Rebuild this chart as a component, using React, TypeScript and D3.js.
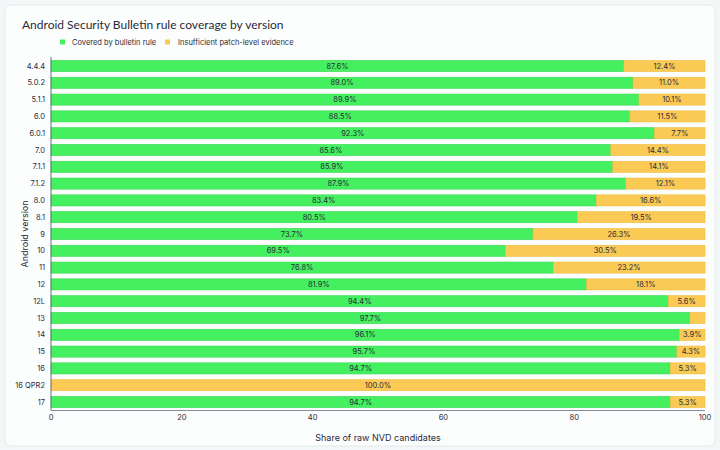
import React from "react";
import * as d3 from "d3";

const versions = ["4.4.4","5.0.2","5.1.1","6.0","6.0.1","7.0","7.1.1","7.1.2","8.0","8.1","9","10","11","12","12L","13","14","15","16","16 QPR2","17"];
const covered = [87.6,89.0,89.9,88.5,92.3,85.6,85.9,87.9,83.4,80.5,73.7,69.5,76.8,81.9,94.4,97.7,96.1,95.7,94.7,0,94.7];
const insufficient = [12.4,11.0,10.1,11.5,7.7,14.4,14.1,12.1,16.6,19.5,26.3,30.5,23.2,18.1,5.6,2.3,3.9,4.3,5.3,100.0,5.3];
const xTicks = [0,20,40,60,80,100];
const seriesNames = ["Covered by bulletin rule","Insufficient patch-level evidence"];

const W = 720, H = 450;
const FONT = "Inter, 'Noto Sans', sans-serif";
const TITLE_FONT = "Lato, Inter, sans-serif";
const GREEN = "#45f060";
const GREEN_STROKE = "#34d84c";
const ORANGE = "#fbca55";
const ORANGE_STROKE = "#f2bb3f";
const TEXT = "#2a2a3a";

export default function App() {
  const x = d3.scaleLinear().domain([0, 100]).range([51, 705]);
  const y = d3.scaleBand<string>().domain(versions).range([57.6, 410.4]).paddingInner(0.34).paddingOuter(0.17);
  const bh = y.bandwidth();
  return (
    <div style={{ position: "absolute", left: 0, top: 0, width: W, height: H, background: "#f4f7f7" }}>
      <svg width={W} height={H} style={{ display: "block", fontFamily: FONT }}>
        <rect x={5} y={5} width={710} height={441} rx={6} fill="#fcfefe" stroke="#e6eaea" />
        <text x={22} y={29} fontSize={12} fontFamily={TITLE_FONT} fill={TEXT}>Android Security Bulletin rule coverage by version</text>
        <rect x={60} y={39.5} width={5} height={5} fill={GREEN} />
        <text x={72} y={44.5} fontSize={7.5} fill={TEXT}>{seriesNames[0]}</text>
        <rect x={165} y={39.5} width={5} height={5} fill={ORANGE} />
        <text x={178} y={44.5} fontSize={7.5} fill={TEXT}>{seriesNames[1]}</text>
        {versions.map((v, i) => {
          const yy = y(v)!;
          const c = covered[i];
          const s = insufficient[i];
          return (
            <g key={v}>
              {c > 0 && (
                <rect x={x(0)} y={yy} width={x(c) - x(0)} height={bh} fill={GREEN} stroke={GREEN_STROKE} strokeWidth={0.6} />
              )}
              {s > 0 && (
                <rect x={x(c)} y={yy} width={x(c + s) - x(c)} height={bh} fill={ORANGE} stroke={ORANGE_STROKE} strokeWidth={0.6} />
              )}
              {c >= 5 && (
                <text x={(x(0) + x(c)) / 2} y={yy + bh / 2} dy="0.35em" textAnchor="middle" fontSize={7.5} fill={TEXT}>{c.toFixed(1)}%</text>
              )}
              {s >= 3 && (
                <text x={(x(c) + x(c + s)) / 2} y={yy + bh / 2} dy="0.35em" textAnchor="middle" fontSize={7.5} fill={TEXT}>{s.toFixed(1)}%</text>
              )}
              <text x={45} y={yy + bh / 2} dy="0.35em" textAnchor="end" fontSize={7.5} fill={TEXT}>{v}</text>
            </g>
          );
        })}
        <line x1={51} x2={51} y1={57} y2={410.5} stroke="#6b6f80" strokeWidth={1} />
        <line x1={51} x2={705} y1={410.5} y2={410.5} stroke="#8a8e9c" strokeWidth={1.2} />
        {xTicks.map((t) => (
          <text key={t} x={x(t)} y={420} textAnchor="middle" fontSize={7.5} fill={TEXT}>{t}</text>
        ))}
        <text x={378} y={441} textAnchor="middle" fontSize={9} fill={TEXT}>Share of raw NVD candidates</text>
        <text transform="translate(28,234) rotate(-90)" textAnchor="middle" fontSize={9} fill={TEXT}>Android version</text>
      </svg>
    </div>
  );
}
